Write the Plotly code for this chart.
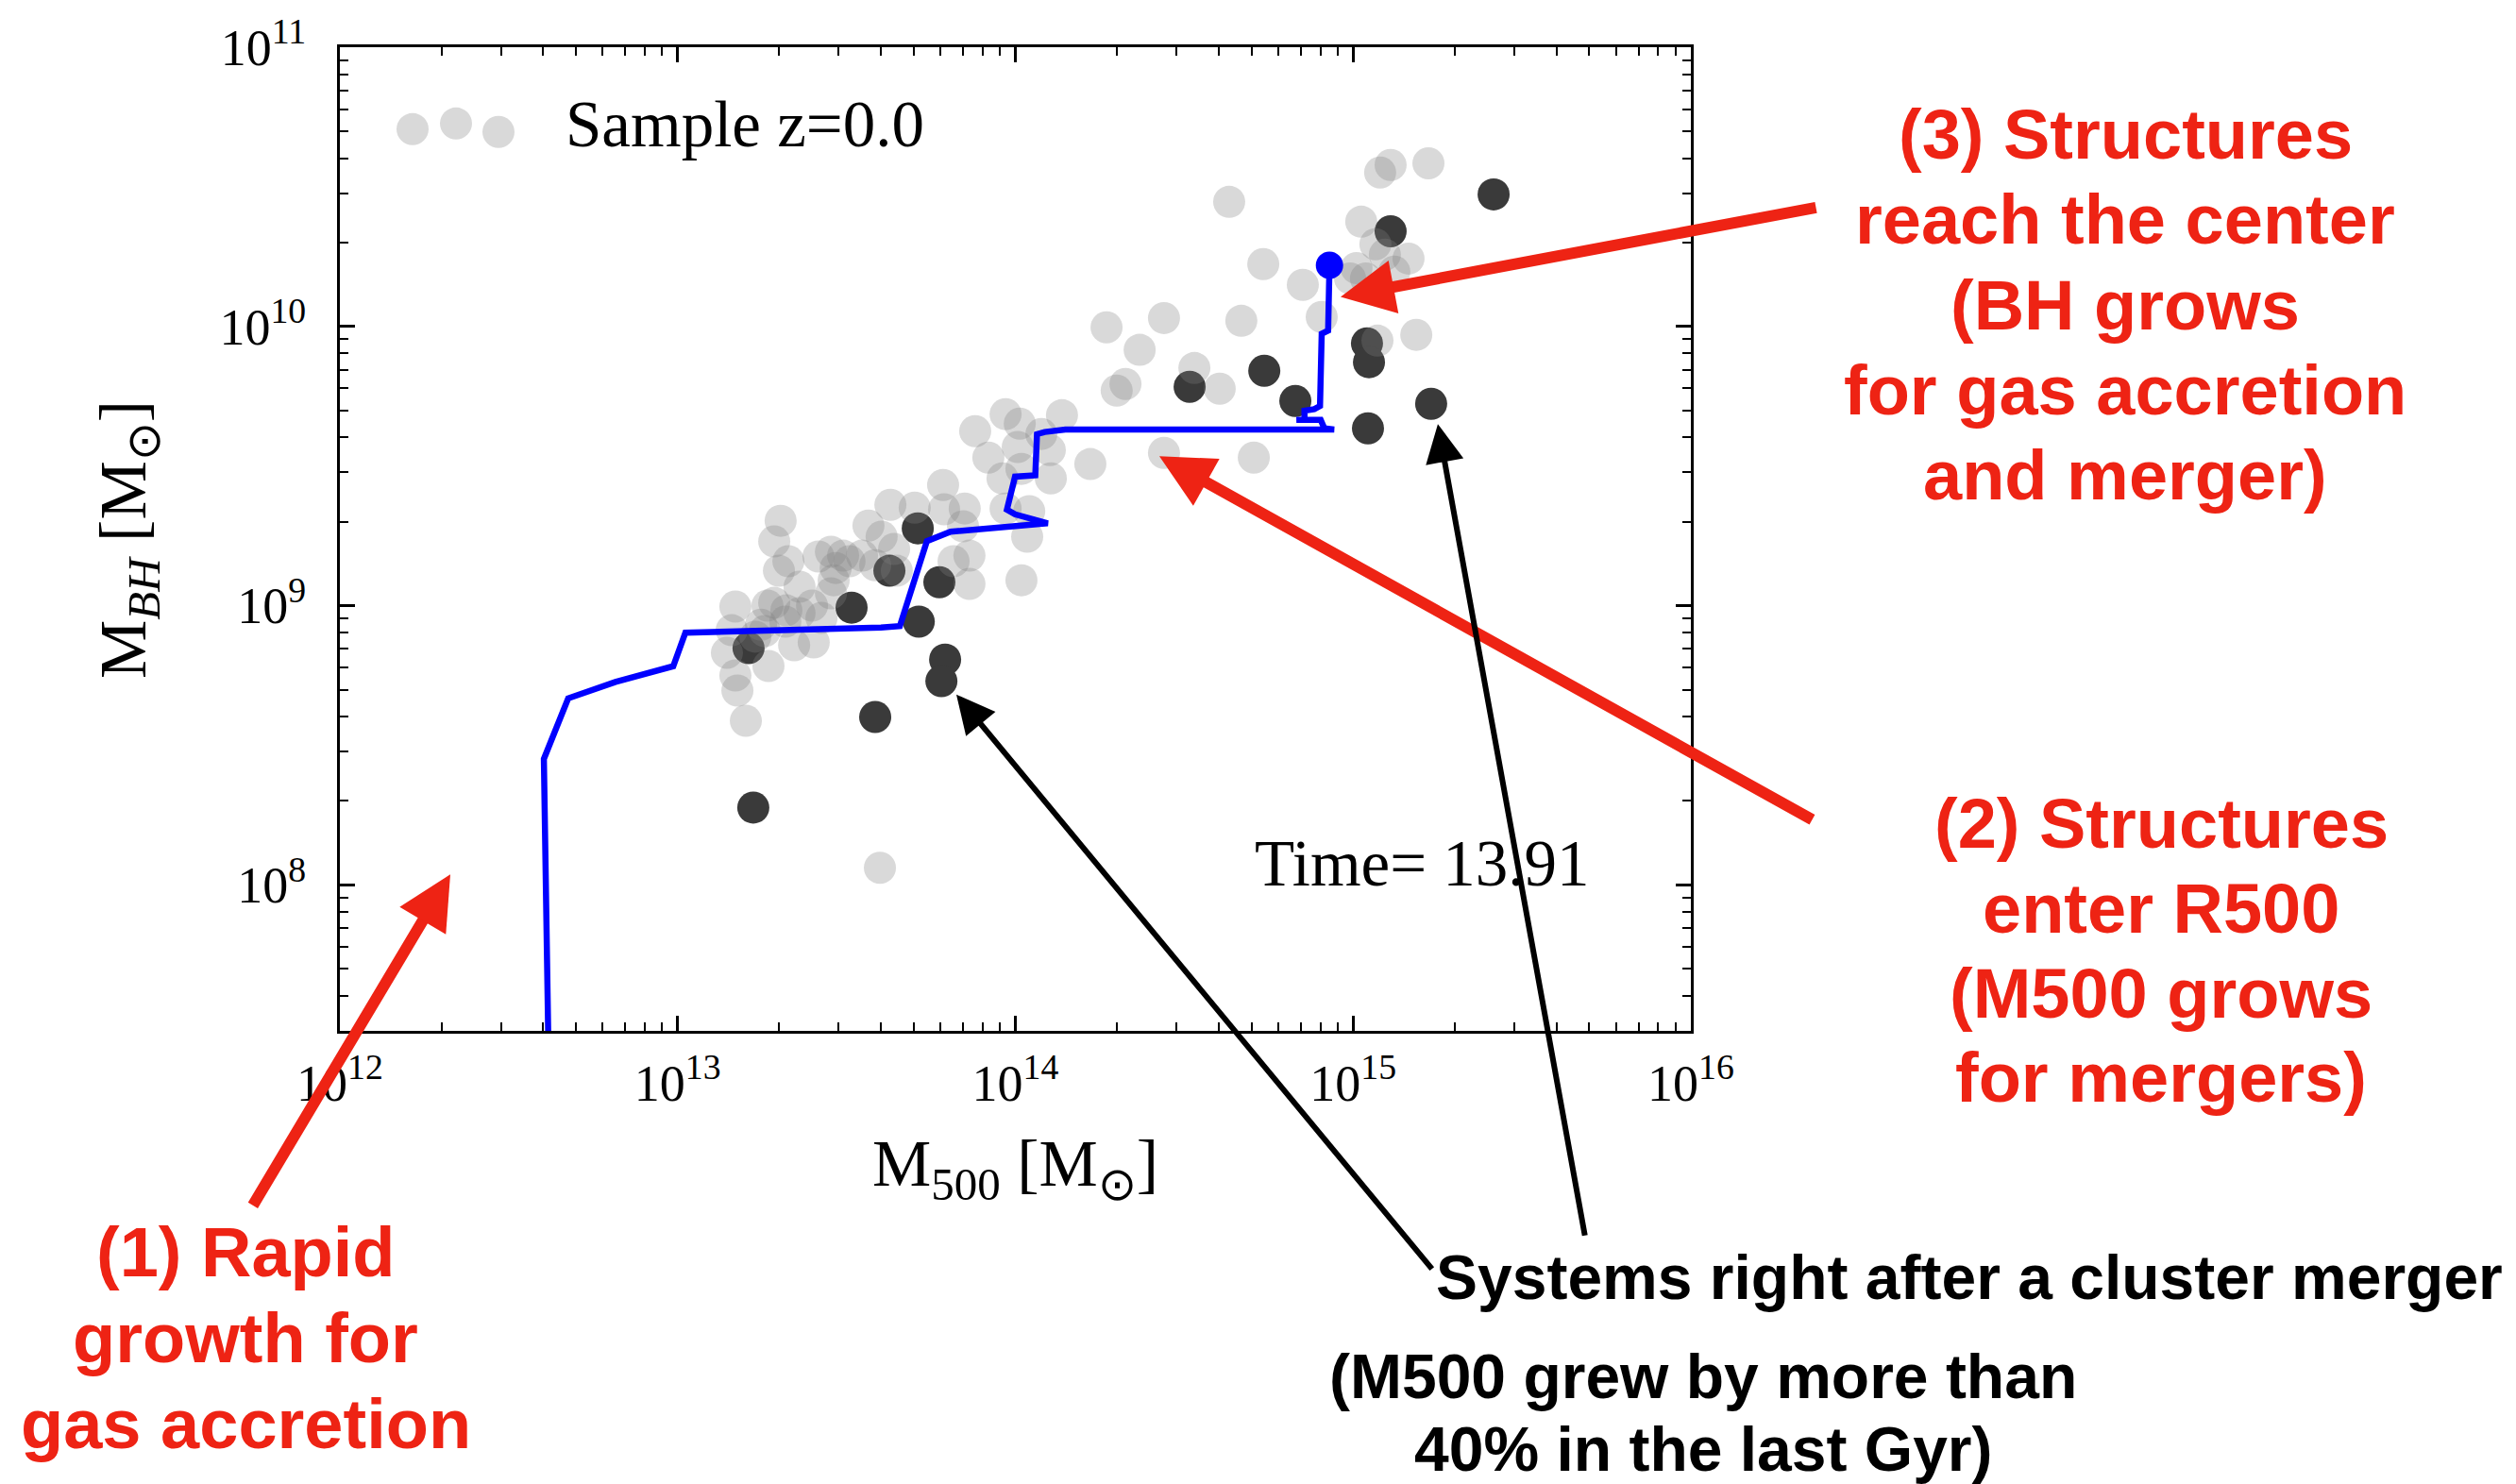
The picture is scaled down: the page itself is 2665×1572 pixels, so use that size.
import plotly.graph_objects as go

# ---------------- data (log10 of masses) ----------------
sample_log_m500 = [
    13.171, 13.160, 13.146, 13.171, 13.177, 13.202, 13.230, 13.247, 13.266, 13.269,
    13.286, 13.305, 13.286, 13.328, 13.300, 13.361, 13.322, 13.361, 13.398, 13.426,
    13.454, 13.345, 13.403, 13.258, 13.319, 13.417, 13.454, 13.490, 13.468, 13.462,
    13.509, 13.546, 13.565, 13.630, 13.702, 13.604, 13.641, 13.585, 13.649, 13.786,
    13.789, 13.850, 13.845, 13.817, 13.864, 13.864, 13.599, 13.881, 13.971, 14.013,
    14.138, 14.077, 13.920, 14.007, 14.102, 13.962, 14.018, 14.105, 14.222, 13.971,
    14.041, 14.035, 14.018, 14.440, 14.706, 14.270, 14.440, 14.368, 14.669, 14.326,
    14.300, 14.530, 14.605, 14.734, 14.851, 14.907, 14.633, 15.080, 15.111, 15.223,
    15.024, 15.066, 15.094, 15.164, 15.010, 15.038, 14.991, 15.122, 15.072, 15.187,
]
sample_log_mbh = [
    8.997, 8.912, 8.831, 8.750, 8.696, 8.588, 8.889, 8.932, 9.000, 8.784,
    9.010, 9.304, 9.230, 9.159, 9.125, 9.068, 8.983, 8.973, 9.000, 8.956,
    9.044, 8.858, 8.868, 8.909, 8.943, 9.176, 9.193, 9.179, 9.135, 9.091,
    9.159, 9.179, 9.287, 9.361, 9.351, 9.247, 9.203, 9.145, 9.125, 9.432,
    9.345, 9.348, 9.284, 9.159, 9.179, 9.078, 8.061, 9.625, 9.686, 9.652,
    9.682, 9.615, 9.530, 9.568, 9.557, 9.456, 9.490, 9.456, 9.507, 9.348,
    9.338, 9.247, 9.091, 9.547, 9.530, 9.997, 10.030, 9.916, 10.020, 9.794,
    9.770, 9.851, 9.777, 10.223, 10.149, 10.034, 10.446, 10.551, 10.578, 10.584,
    10.375, 10.294, 10.257, 10.243, 10.209, 10.172, 10.172, 10.196, 9.949, 9.970,
]

merger_log_m500 = [13.210, 13.515, 13.627, 13.711, 13.775, 13.714, 13.792, 13.781, 13.585, 13.224,
                   14.516, 14.737, 14.829, 15.041, 15.047, 15.044, 15.231, 15.111, 15.416]
merger_log_mbh = [8.848, 8.993, 9.125, 9.277, 9.084, 8.943, 8.807, 8.730, 8.601, 8.277,
                  9.784, 9.841, 9.733, 9.939, 9.872, 9.635, 9.723, 10.341, 10.473]

track_log_m500 = [12.619, 12.604, 12.676, 12.816, 12.987, 13.023, 13.602, 13.658, 13.738, 13.808,
                  14.096, 13.999, 13.975, 13.999, 14.059, 14.064, 14.087, 14.148, 14.944, 14.915,
                  14.904, 14.832, 14.856, 14.856, 14.885, 14.902, 14.907, 14.926, 14.930]
track_log_mbh = [7.30, 8.451, 8.668, 8.727, 8.783, 8.903, 8.922, 8.927, 9.231, 9.265,
                 9.295, 9.327, 9.344, 9.462, 9.467, 9.614, 9.622, 9.631, 9.631, 9.635,
                 9.665, 9.665, 9.666, 9.698, 9.704, 9.715, 9.974, 9.985, 10.216]

final_log_m500 = [14.930]
final_log_mbh = [10.219]

x_tick_vals = [1e12, 1e13, 1e14, 1e15, 1e16]
x_tick_text = ["10<sup>12</sup>", "10<sup>13</sup>", "10<sup>14</sup>", "10<sup>15</sup>", "10<sup>16</sup>"]
y_tick_vals = [1e8, 1e9, 1e10, 1e11]
y_tick_text = ["10<sup>8</sup>", "10<sup>9</sup>", "10<sup>10</sup>", "10<sup>11</sup>"]

assert len(sample_log_m500) == len(sample_log_mbh)
assert len(merger_log_m500) == len(merger_log_mbh)
assert len(track_log_m500) == len(track_log_mbh)

def tenpow(v):
    return [10 ** a for a in v]

# ---------------- figure ----------------
W, H = 2665, 1572
L, R, T, B = 360, 874, 48, 480
PW, PH = W - L - R, H - T - B

def PX(x):
    return (x - L) / PW

def PY(y):
    return (H - B - y) / PH

fig = go.Figure()

fig.add_trace(go.Scatter(
    x=tenpow(merger_log_m500), y=tenpow(merger_log_mbh), mode="markers",
    marker=dict(size=34, color="#3a3a3a", line=dict(width=0)),
    hoverinfo="skip"))
fig.add_trace(go.Scatter(
    x=tenpow(sample_log_m500), y=tenpow(sample_log_mbh), mode="markers",
    marker=dict(size=34, color="rgba(128,128,128,0.3)", line=dict(width=0)),
    hoverinfo="skip"))
fig.add_trace(go.Scatter(
    x=tenpow(track_log_m500), y=tenpow(track_log_mbh), mode="lines",
    line=dict(color="#0000ff", width=6.5), hoverinfo="skip"))
fig.add_trace(go.Scatter(
    x=tenpow(final_log_m500), y=tenpow(final_log_mbh), mode="markers",
    marker=dict(size=29, color="#0000ff", line=dict(width=0)), hoverinfo="skip"))

x_minor = [m * 10 ** e for e in range(12, 16) for m in range(2, 10)]
y_minor = [m * 10 ** e for e in range(7, 11) for m in range(2, 10)]

serif = "Liberation Serif"
sans = "Liberation Sans"

axis_common = dict(
    type="log", showline=True, linecolor="black", linewidth=3, mirror="allticks",
    ticks="inside", ticklen=16, tickwidth=2.5, tickcolor="black",
    showgrid=False, zeroline=False,
    tickfont=dict(family=serif, size=54, color="black"),
)

fig.update_layout(
    width=W, height=H,
    margin=dict(l=L, r=R, t=T, b=B, pad=0),
    paper_bgcolor="white", plot_bgcolor="white",
    showlegend=False,
    xaxis=dict(range=[12, 16], tickmode="array", tickvals=x_tick_vals, ticktext=x_tick_text,
               ticklabelstandoff=6,
               minor=dict(tickmode="array", tickvals=x_minor, ticks="inside", ticklen=9,
                          tickwidth=2, tickcolor="black", showgrid=False),
               **axis_common),
    yaxis=dict(range=[7.4771, 11], tickmode="array", tickvals=y_tick_vals, ticktext=y_tick_text,
               ticklabelstandoff=22,
               minor=dict(tickmode="array", tickvals=y_minor, ticks="inside", ticklen=9,
                          tickwidth=2, tickcolor="black", showgrid=False),
               **axis_common),
)

anns = []

def text(x, y, s, size, color="black", family=serif, xanchor="center", angle=0):
    anns.append(dict(x=PX(x), y=PY(y), xref="paper", yref="paper", text=s, showarrow=False,
                     xanchor=xanchor, yanchor="middle", textangle=angle,
                     font=dict(family=family, size=size, color=color)))

# axis titles
text(1075, 1238, "M<sub>500</sub> [M<sub>⊙</sub>]", 70)
text(136, 571, "M<sub><i>BH</i></sub> [M<sub>⊙</sub>]", 70, angle=-90)

# in-plot texts
text(597, 130, "Sample z=0.0", 69, xanchor="left")
text(1327, 915, "Time= 13.91", 69, xanchor="left")

RED = "#ee2314"
# (3)
for s, yb in zip(["(3) Structures", "reach the center", "(BH grows", "for gas accretion", "and merger)"],
                 [167, 257, 348, 438, 528]):
    text(2251, yb - 26, "<b>" + s + "</b>", 74, color=RED, family=sans)
# (2)
for s, yb in zip(["(2) Structures", "enter R500", "(M500 grows", "for mergers)"],
                 [898, 988, 1078, 1168]):
    text(2289, yb - 26, "<b>" + s + "</b>", 74, color=RED, family=sans)
# (1)
for s, yb in zip(["(1) Rapid", "growth for", "gas accretion"], [1353, 1444, 1535]):
    text(260, yb - 26, "<b>" + s + "</b>", 74, color=RED, family=sans)

# black texts
text(1519, 1377 - 23, "<b>Systems right after a cluster merger</b>", 66, family=sans, xanchor="left")
text(1804, 1482 - 23, "<b>(M500 grew by more than</b>", 66, family=sans)
text(1804, 1559 - 23, "<b>40% in the last Gyr)</b>", 66, family=sans)

def arrow(tip, tail, color, width, size):
    anns.append(dict(x=PX(tip[0]), y=PY(tip[1]), xref="paper", yref="paper",
                     ax=tail[0] - tip[0], ay=tail[1] - tip[1], axref="pixel", ayref="pixel",
                     text="", showarrow=True, arrowhead=2, arrowsize=size, arrowwidth=width,
                     arrowcolor=color, standoff=0))

arrow((1420, 313), (1925, 218), RED, 12, 0.95)
arrow((1228, 482), (1921, 868), RED, 12, 0.95)
arrow((477, 926), (267, 1278), RED, 12, 0.95)
arrow((1013, 735), (1518, 1345), "black", 6, 1.35)
arrow((1523, 448), (1679, 1309), "black", 6, 1.35)

fig.update_layout(annotations=anns)

# legend marker (three scatter points, matplotlib style)
shapes = []
for cx, cy in [(437, 135), (483, 129), (528, 138)]:
    shapes.append(dict(type="circle", xref="paper", yref="paper", xsizemode="pixel", ysizemode="pixel",
                       xanchor=PX(cx), yanchor=PY(cy), x0=-17, x1=17, y0=-17, y1=17,
                       fillcolor="rgba(128,128,128,0.3)", line=dict(width=0)))
fig.update_layout(shapes=shapes)

fig.write_html("out.html")
